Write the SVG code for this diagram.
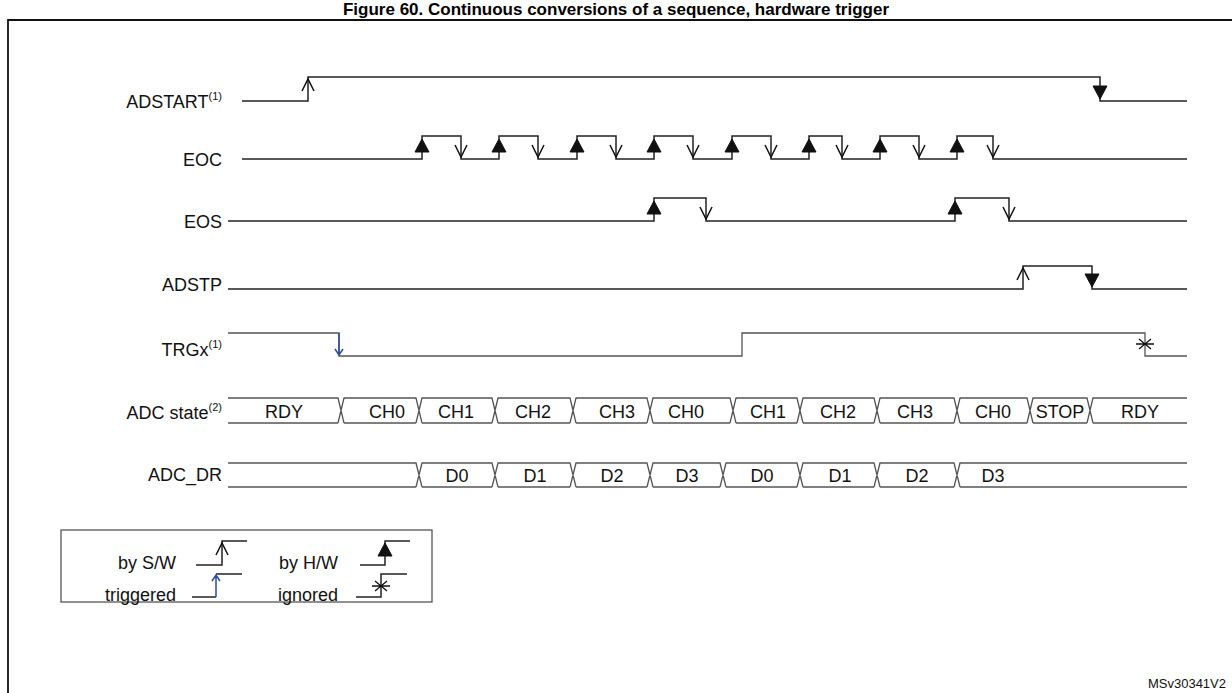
<svg xmlns="http://www.w3.org/2000/svg" width="1232" height="693" viewBox="0 0 1232 693">
<style>
.t{font-family:"Liberation Sans",Arial,sans-serif;font-size:18px;fill:#111}
.l{text-anchor:end}
.c{text-anchor:middle}
.w{fill:none;stroke:#222;stroke-width:1.5}
.g{fill:none;stroke:#555;stroke-width:1.3}
.oa{fill:none;stroke:#111;stroke-width:1.5}
.fa{fill:#111;stroke:#111}
</style>
<defs>
<path id="ou" class="oa" d="M-6,12 L0,0 L6,12"/>
<path id="od" class="oa" d="M-6,-12 L0,0 L6,-12"/>
<path id="fu" class="fa" d="M-7,13 L0,0 L7,13 Z"/>
<path id="fd" class="fa" d="M-7,-13 L0,0 L7,-13 Z"/>
</defs>
<rect x="0" y="0" width="1232" height="693" fill="#fff"/>
<text x="616" y="15" class="c" style="font-family:'Liberation Sans',Arial,sans-serif;font-size:17px;font-weight:bold">Figure 60. Continuous conversions of a sequence, hardware trigger</text>
<path d="M8,700 V20 H1240" fill="none" stroke="#111" stroke-width="1.8"/>

<g id="labels">
<text x="222" y="108" class="t l">ADSTART<tspan font-size="11" dy="-8">(1)</tspan></text>
<text x="222" y="166" class="t l">EOC</text>
<text x="222" y="228" class="t l">EOS</text>
<text x="222" y="291" class="t l">ADSTP</text>
<text x="222" y="356" class="t l">TRGx<tspan font-size="11" dy="-8">(1)</tspan></text>
<text x="222" y="419" class="t l">ADC state<tspan font-size="11" dy="-8">(2)</tspan></text>
<text x="222" y="481" class="t l">ADC_DR</text>
</g>

<g id="connectors">
<g id="adstart">
<path class="w" d="M242,101 H308 V77 H1100 V101 H1187"/>
<use href="#ou" x="308" y="79"/>
<use href="#fd" x="1100" y="99"/>
</g>
<g id="eoc">
<path class="w" d="M242,159 H422 V136 H461 V159 H499 V136 H538 V159 H577 V136 H616 V159 H654 V136 H693 V159 H732 V136 H771 V159 H809 V136 H842 V159 H880 V136 H919 V159 H957 V136 H993 V159 H1187"/>
<use href="#fu" x="422" y="139"/><use href="#od" x="461" y="157"/>
<use href="#fu" x="499" y="139"/><use href="#od" x="538" y="157"/>
<use href="#fu" x="577" y="139"/><use href="#od" x="616" y="157"/>
<use href="#fu" x="654" y="139"/><use href="#od" x="693" y="157"/>
<use href="#fu" x="732" y="139"/><use href="#od" x="771" y="157"/>
<use href="#fu" x="809" y="139"/><use href="#od" x="842" y="157"/>
<use href="#fu" x="880" y="139"/><use href="#od" x="919" y="157"/>
<use href="#fu" x="957" y="139"/><use href="#od" x="993" y="157"/>
</g>
<g id="eos">
<path class="w" d="M228,221 H654 V198 H706 V221 H955 V198 H1009 V221 H1187"/>
<use href="#fu" x="654" y="201"/><use href="#od" x="706" y="219"/>
<use href="#fu" x="955" y="201"/><use href="#od" x="1009" y="219"/>
</g>
<g id="adstp">
<path class="w" d="M228,289 H1023 V266 H1092 V289 H1187"/>
<use href="#ou" x="1023" y="268"/>
<use href="#fd" x="1092" y="287"/>
</g>
<g id="trgx">
<path class="g" d="M228,333 H339 V356 H742 V333 H1145 V356 H1187"/>
<path d="M339,333 V355 M335,349 L339,355 L343,349" fill="none" stroke="#2b4aa0" stroke-width="1.5"/>
<path d="M1139,339 L1151,349 M1139,349 L1151,339 M1136,344 H1154" fill="none" stroke="#111" stroke-width="1.3"/>
</g>
<g id="adcstate" class="g">
<path d="M228,398 H338 L344,423 M338,423 L344,398 H416 L422,423 M416,423 L422,398 H492 L498,423 M492,423 L498,398 H570 L576,423 M570,423 L576,398 H647 L653,423 M647,423 L653,398 H730 L736,423 M730,423 L736,398 H797 L803,423 M797,423 L803,398 H874 L880,423 M874,423 L880,398 H954 L960,423 M954,423 L960,398 H1027 L1033,423 M1027,423 L1033,398 H1087 L1093,423 M1087,423 L1093,398 H1187"/>
<path d="M228,423 H338 M344,423 H416 M422,423 H492 M498,423 H570 M576,423 H647 M653,423 H730 M736,423 H797 M803,423 H874 M880,423 H954 M960,423 H1027 M1033,423 H1087 M1093,423 H1187"/>
</g>
<g id="adcdr" class="g">
<path d="M228,463 H416 L422,487 M416,487 L422,463 H492 L498,487 M492,487 L498,463 H570 L576,487 M570,487 L576,463 H647 L653,487 M647,487 L653,463 H720 L726,487 M720,487 L726,463 H797 L803,487 M797,487 L803,463 H874 L880,487 M874,487 L880,463 H954 L960,487 M954,487 L960,463 H1187"/>
<path d="M228,487 H416 M422,487 H492 M498,487 H570 M576,487 H647 M653,487 H720 M726,487 H797 M803,487 H874 M880,487 H954 M960,487 H1187"/>
</g>
</g>

<g id="statetext">
<text x="284" y="418" class="t c">RDY</text>
<text x="387" y="418" class="t c">CH0</text>
<text x="456" y="418" class="t c">CH1</text>
<text x="533" y="418" class="t c">CH2</text>
<text x="617" y="418" class="t c">CH3</text>
<text x="686" y="418" class="t c">CH0</text>
<text x="768" y="418" class="t c">CH1</text>
<text x="838" y="418" class="t c">CH2</text>
<text x="915" y="418" class="t c">CH3</text>
<text x="993" y="418" class="t c">CH0</text>
<text x="1060" y="418" class="t c">STOP</text>
<text x="1140" y="418" class="t c">RDY</text>
<text x="457" y="482" class="t c">D0</text>
<text x="535" y="482" class="t c">D1</text>
<text x="612" y="482" class="t c">D2</text>
<text x="687" y="482" class="t c">D3</text>
<text x="762" y="482" class="t c">D0</text>
<text x="840" y="482" class="t c">D1</text>
<text x="917" y="482" class="t c">D2</text>
<text x="993" y="482" class="t c">D3</text>
</g>

<g id="legend">
<rect x="61" y="530" width="371" height="72" fill="none" stroke="#555" stroke-width="1.3"/>
<text x="176" y="569" class="t l">by S/W</text>
<path class="w" d="M196,565 H222 V541 H247"/>
<use href="#ou" x="222" y="543"/>
<text x="338" y="569" class="t l">by H/W</text>
<path class="w" d="M360,565 H385 V541 H410"/>
<use href="#fu" x="385" y="543"/>
<text x="176" y="601" class="t l">triggered</text>
<path class="w" d="M192,597 H216"/>
<path class="w" d="M216,574 H242"/>
<path d="M216,597 V575 M212,581 L216,575 L220,581" fill="none" stroke="#2b4aa0" stroke-width="1.5"/>
<text x="338" y="601" class="t l">ignored</text>
<path class="w" d="M356,597 H381 V574 H407"/>
<path d="M375,581 L387,591 M375,591 L387,581 M372,586 H390" fill="none" stroke="#111" stroke-width="1.3"/>
</g>
<text x="1226" y="688" style="font-family:'Liberation Sans',Arial,sans-serif;font-size:13px;text-anchor:end;fill:#111">MSv30341V2</text>
</svg>
